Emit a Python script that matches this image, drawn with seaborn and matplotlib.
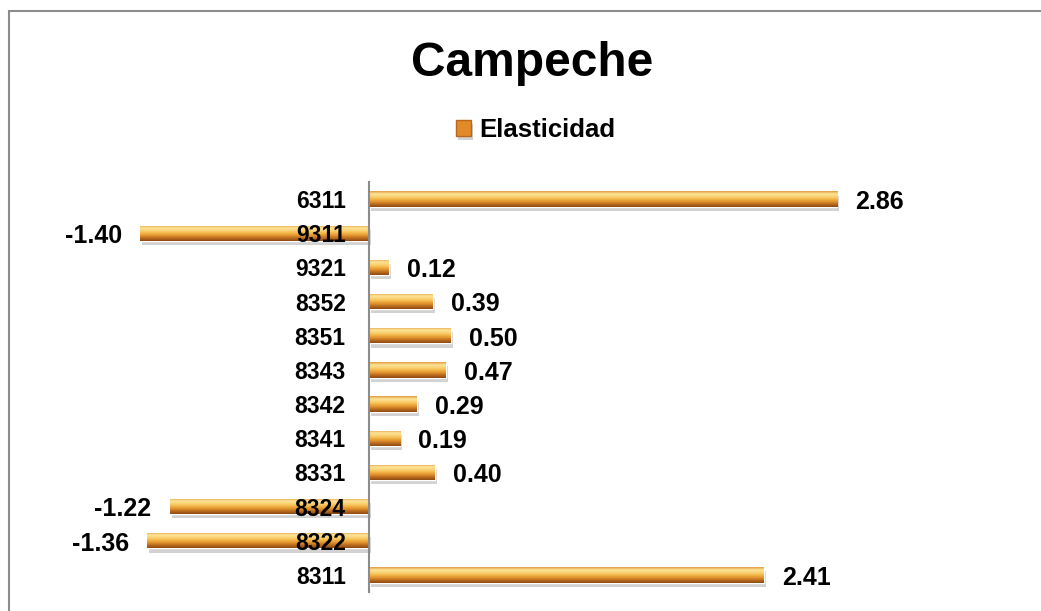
import numpy as np
import matplotlib
matplotlib.use("Agg")
import matplotlib.pyplot as plt
import matplotlib.patheffects as pe
from matplotlib.colors import LinearSegmentedColormap
from matplotlib.patches import Rectangle
import seaborn as sns

# Chart data (top to bottom as shown)
categories = ["6311", "9311", "9321", "8352", "8351", "8343",
              "8342", "8341", "8331", "8324", "8322", "8311"]
elasticidad = [2.86, -1.40, 0.12, 0.39, 0.50, 0.47,
               0.29, 0.19, 0.40, -1.22, -1.36, 2.41]
series_name = "Elasticidad"
title = "Campeche"

sns.set_theme(style="white")
plt.rcParams["font.family"] = ["Liberation Sans", "DejaVu Sans"]
plt.rcParams["text.color"] = "black"
plt.rcParams["ytick.color"] = "black"

fig = plt.figure(figsize=(10.41, 6.11), dpi=100)
ax = fig.add_axes([0.0403, 0.0311, 0.786, 0.671])

sns.barplot(x=elasticidad, y=categories, order=categories, orient="h",
            color="#E8962E", width=0.45, label=series_name, ax=ax)

# gold gradient on each bar, plus a soft shadow
gold = LinearSegmentedColormap.from_list(
    "gold", ["#E29A3C", "#FCE296", "#FAD57A", "#F5B748", "#E0922E", "#B8681E", "#8E4A12"])
grad = np.linspace(0, 1, 64).reshape(-1, 1)
for p in ax.patches:
    x0, w = p.get_x(), p.get_width()
    y0, h = p.get_y(), p.get_height()
    p.set_path_effects([pe.SimplePatchShadow(offset=(1.5, -3), shadow_rgbFace="gray", alpha=0.35),
                        pe.Normal()])
    im = ax.imshow(grad, cmap=gold, aspect="auto", interpolation="bilinear",
                   extent=(min(x0, x0 + w), max(x0, x0 + w), y0 + h, y0), zorder=1.2)
    im.set_clip_path(p)

labels = ax.bar_label(ax.containers[0], fmt="%.2f", padding=13, fontsize=18, fontweight="bold")
for t in labels:
    dx, dy = t.xyann
    t.xyann = (dx, dy - 2)

ax.set_xlim(-2, 3)
ax.set_ylim(11.5, -0.5)

# category axis sits on the zero line, drawn above the bars
for s in ["top", "right", "bottom"]:
    ax.spines[s].set_visible(False)
ax.spines["left"].set_position(("data", 0))
ax.spines["left"].set_color("#8C8C8C")
ax.spines["left"].set_linewidth(1.5)
ax.spines["left"].set_zorder(5)
ax.yaxis.set_zorder(5)
ax.set_xticks([])
ax.set_xlabel("")
ax.set_ylabel("")
ax.tick_params(axis="y", length=0, pad=17, labelsize=16.5)
for t in ax.get_yticklabels():
    t.set_fontweight("bold")

leg = ax.legend(loc="center", bbox_to_anchor=(536 / 1041, 1 - 130 / 611),
                bbox_transform=fig.transFigure, frameon=False, handlelength=0.55,
                handleheight=0.55, handletextpad=0.35, prop={"size": 18.5, "weight": "bold"})
for h in leg.legend_handles:
    h.set_facecolor("#E08A28")
    h.set_edgecolor("#B8681E")

fig.text(532 / 1041, 1 - 63 / 611, title, ha="center", va="center",
         fontsize=34.5, fontweight="bold")

# chart area border (only left and top edges are in view)
fig.add_artist(Rectangle((9 / 1041, -0.1), 1.2, 1.1 - 11 / 611,
                         transform=fig.transFigure, fill=False,
                         edgecolor="#8C8C8C", linewidth=1.5, clip_on=False))

fig.savefig("out.png", dpi=100)
